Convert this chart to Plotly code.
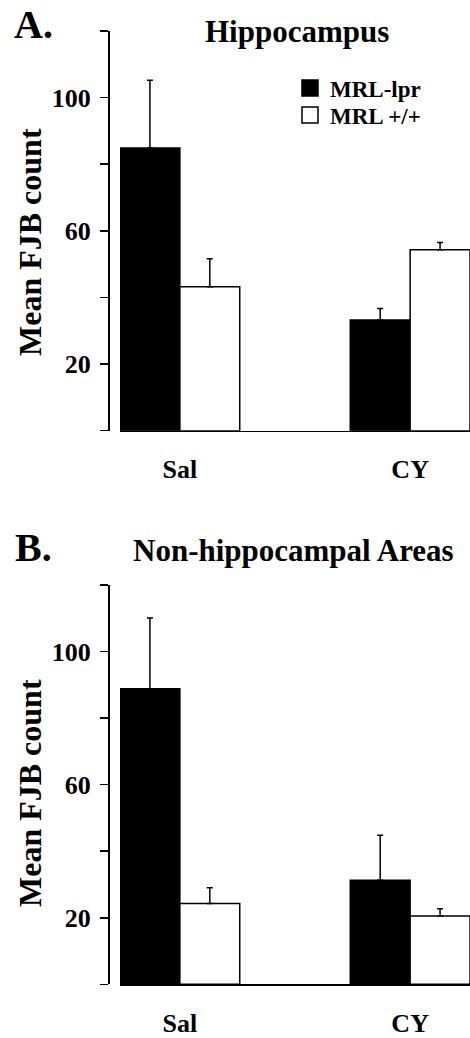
import plotly.graph_objects as go

# ---- data ----
categories = ["Sal", "CY"]
series_names = ["MRL-lpr", "MRL +/+"]
hippo_lpr = [84.9, 33.2]
hippo_lpr_err = [20.3, 3.5]
hippo_wt = [43.2, 54.3]
hippo_wt_err = [8.4, 2.2]
nonhippo_lpr = [88.8, 31.3]
nonhippo_lpr_err = [21.3, 13.5]
nonhippo_wt = [24.3, 20.5]
nonhippo_wt_err = [4.7, 2.2]
y_tickvals = [0, 20, 40, 60, 80, 100, 120]
y_ticktext = ["", "20", "", "60", "", "100", ""]

W, H = 470, 1038
FONT = "Liberation Serif, Times New Roman, Tinos, DejaVu Serif, serif"


def py(p):
    return 1 - p / H


def px(p):
    return p / W


fig = go.Figure()

panels = [
    ("x", "y", hippo_lpr, hippo_lpr_err, hippo_wt, hippo_wt_err),
    ("x2", "y2", nonhippo_lpr, nonhippo_lpr_err, nonhippo_wt, nonhippo_wt_err),
]
for xa, ya, lpr, lpr_e, wt, wt_e in panels:
    fig.add_trace(go.Bar(
        x=categories, y=lpr, xaxis=xa, yaxis=ya, name=series_names[0],
        marker=dict(color="black", line=dict(color="black", width=1.5)),
        error_y=dict(type="data", symmetric=False, array=lpr_e,
                     arrayminus=[0] * len(lpr_e), color="black",
                     thickness=1.5, width=3),
        showlegend=False,
    ))
    fig.add_trace(go.Bar(
        x=categories, y=wt, xaxis=xa, yaxis=ya, name=series_names[1],
        marker=dict(color="white", line=dict(color="black", width=1.5)),
        error_y=dict(type="data", symmetric=False, array=wt_e,
                     arrayminus=[0] * len(wt_e), color="black",
                     thickness=1.5, width=3),
        showlegend=False,
    ))

# legend entries (one legend per row for tight spacing)
for name, col, lg in zip(series_names, ["black", "white"], ["legend", "legend2"]):
    fig.add_trace(go.Scatter(
        x=[None], y=[None], mode="markers", name=name, xaxis="x", yaxis="y",
        legend=lg,
        marker=dict(symbol="square", size=16, color=col,
                    line=dict(color="black", width=1.5)),
    ))

xcommon = dict(range=[-0.26, 1.26], showline=True, linecolor="black",
               linewidth=1.5, ticks="", showgrid=False, zeroline=False,
               tickfont=dict(family=FONT, size=26, color="black", weight="bold"),
               ticklabelstandoff=15, fixedrange=True)
ycommon = dict(range=[0, 120], tickmode="array", tickvals=y_tickvals,
               ticktext=y_ticktext, showline=True, linecolor="black",
               linewidth=1.5, ticks="outside", ticklen=8, tickwidth=1.5,
               tickcolor="black", showgrid=False, zeroline=False,
               anchor="free", position=px(108), fixedrange=True,
               tickfont=dict(family=FONT, size=26, color="black", weight="bold"),
               ticklabelstandoff=4)

legfont = dict(family=FONT, size=23, color="black", weight="bold")
fig.update_layout(
    width=W, height=H,
    margin=dict(l=0, r=0, t=0, b=0),
    paper_bgcolor="white", plot_bgcolor="white",
    barmode="group", bargap=0.48, bargroupgap=0,
    xaxis=dict(domain=[px(120), 1], anchor="y", **xcommon),
    yaxis=dict(domain=[py(430.7), py(31)], **ycommon),
    xaxis2=dict(domain=[px(120), 1], anchor="y2", **xcommon),
    yaxis2=dict(domain=[py(984.3), py(585)], **ycommon),
    legend=dict(x=px(290), y=py(88), xanchor="left", yanchor="middle",
                font=legfont, bgcolor="rgba(0,0,0,0)", tracegroupgap=0),
    legend2=dict(x=px(290), y=py(115), xanchor="left", yanchor="middle",
                 font=legfont, bgcolor="rgba(0,0,0,0)", tracegroupgap=0),
    showlegend=True,
    font=dict(family=FONT),
)

ann_font = lambda s: dict(family=FONT, size=s, color="black", weight="bold")
annotations = [
    dict(text="A.", x=px(33), y=py(25), size=40),
    dict(text="Hippocampus", x=px(297), y=py(32), size=31),
    dict(text="Mean FJB count", x=px(30), y=py(242), size=32, angle=-90),
    dict(text="B.", x=px(33), y=py(547), size=40),
    dict(text="Non-hippocampal Areas", x=px(293), y=py(550), size=31),
    dict(text="Mean FJB count", x=px(30), y=py(793), size=32, angle=-90),
]
for a in annotations:
    fig.add_annotation(text=a["text"], x=a["x"], y=a["y"], xref="paper",
                       yref="paper", xanchor="center", yanchor="middle",
                       showarrow=False, font=ann_font(a["size"]),
                       textangle=a.get("angle", 0))

fig.write_html("out.html",
               config={"displayModeBar": False, "staticPlot": True},
               post_script="document.body.style.margin='0';"
                           "document.body.style.overflow='hidden';")
